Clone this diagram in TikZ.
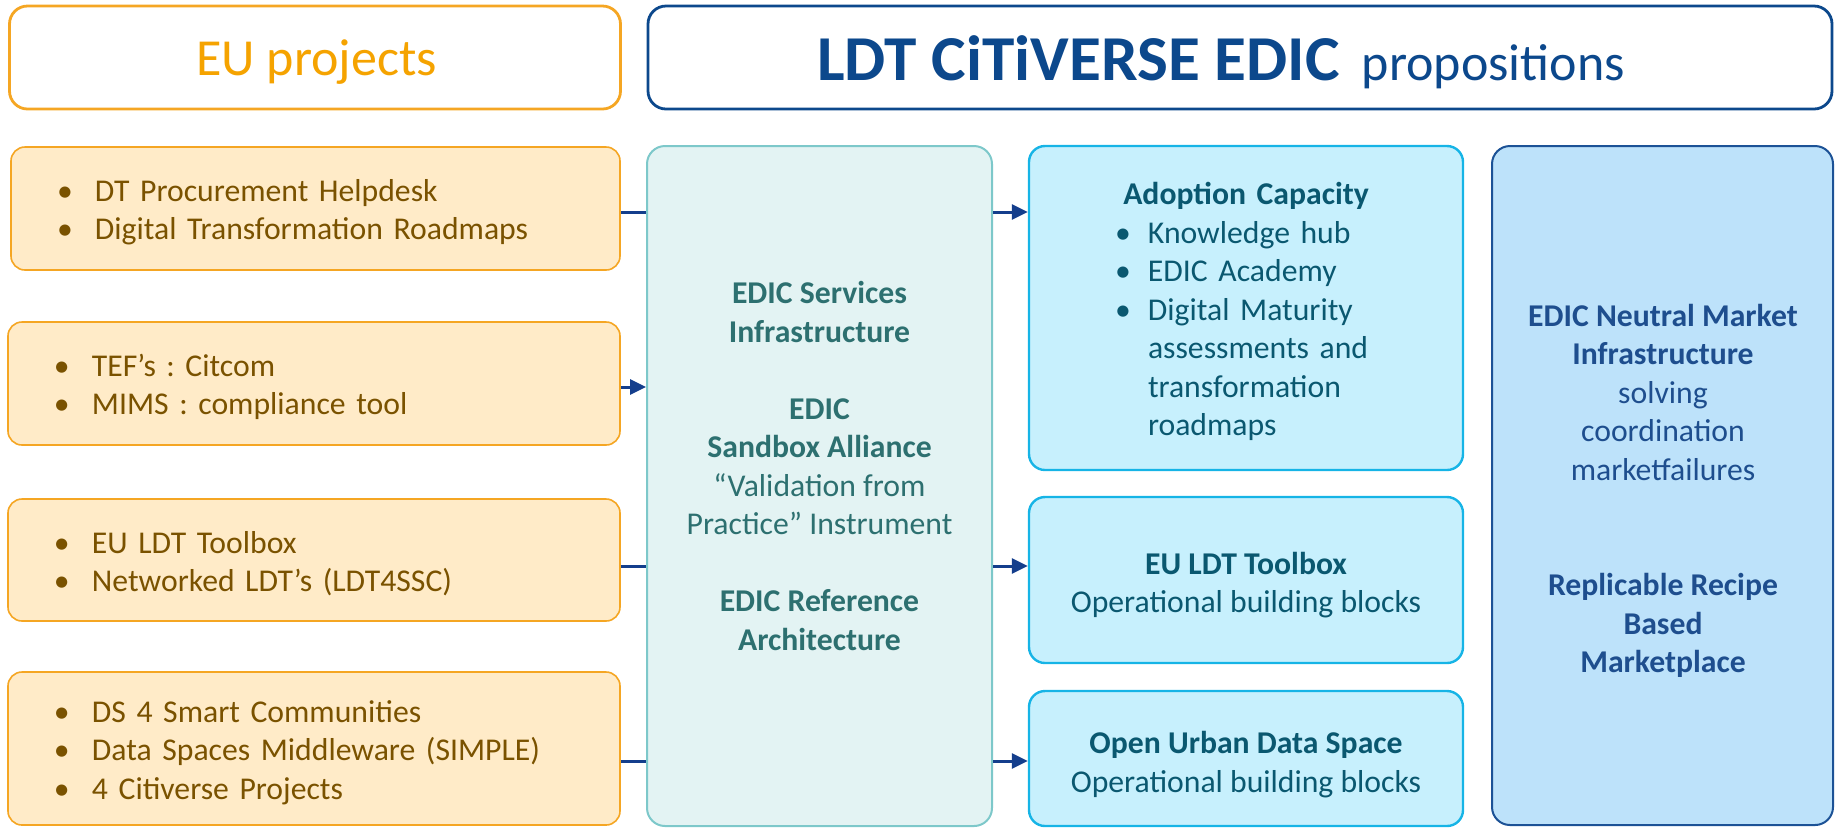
\documentclass[tikz,border=0pt]{standalone}
\usepackage{fontspec}
\setmainfont{Carlito}
\usetikzlibrary{arrows.meta}
\definecolor{lborder}{RGB}{245,166,35}
\definecolor{lfill}{RGB}{255,235,200}
\definecolor{ltext}{RGB}{122,82,0}
\definecolor{orangetitle}{RGB}{245,163,0}
\definecolor{ldtblue}{RGB}{12,72,140}
\definecolor{midfill}{RGB}{227,243,243}
\definecolor{midborder}{RGB}{125,200,202}
\definecolor{midtext}{RGB}{45,112,112}
\definecolor{rfill}{RGB}{199,240,253}
\definecolor{rborder}{RGB}{22,180,230}
\definecolor{rtext}{RGB}{10,88,112}
\definecolor{frfill}{RGB}{189,226,250}
\definecolor{frborder}{RGB}{28,82,150}
\definecolor{frtext}{RGB}{30,78,142}
\definecolor{connblue}{RGB}{20,62,140}
\newcommand{\bul}{\makebox[19pt][l]{•}}
\newcommand{\rbul}{\makebox[16.5pt][l]{•}}
\frenchspacing
\begin{document}
\frenchspacing
\begin{tikzpicture}[x=0.5pt,y=-0.5pt,
  basefont/.style={font=\fontsize{15.85pt}{19.25pt}\selectfont\frenchspacing},
  titlebox/.style={line width=1.4pt, rounded corners=9pt, fill=white, minimum width=#1, minimum height=51.5pt, inner sep=0pt},
  lbox/.style={draw=lborder, fill=lfill, line width=0.8pt, rounded corners=7pt, minimum width=306pt, inner sep=0pt},
  ltxt/.style={basefont, text=ltext, align=left, inner sep=0pt, text width=260pt},
  midbox/.style={draw=midborder, fill=midfill, line width=1pt, rounded corners=9pt, minimum width=172.5pt, minimum height=340pt, inner sep=0pt},
  rbox/.style={draw=rborder, fill=rfill, line width=1.2pt, rounded corners=8pt, minimum width=217pt, inner sep=0pt},
  rtxt/.style={basefont, text=rtext, align=center, inner sep=0pt},
  frbox/.style={draw=frborder, fill=frfill, line width=1pt, rounded corners=9pt, minimum width=170.5pt, minimum height=339.5pt, inner sep=0pt},
  conn/.style={draw=connblue, line width=1.5pt},
  connarrow/.style={conn, -{Triangle[length=8pt,width=7.5pt]}}
]
\useasboundingbox (0,0) rectangle (1835,827);

% title boxes
\node[titlebox=305.5pt, draw=lborder] (eu) at (315,57.5) {};
\node[titlebox=592pt, draw=ldtblue] (ldt) at (1240,57.5) {};
\node[anchor=base, text=orangetitle, font=\fontsize{26pt}{31pt}\selectfont] (eutext) at (316.5,75) {EU projects};
\node[anchor=base, text=ldtblue, font=\fontsize{26pt}{31pt}\selectfont] (ldttext) at (1221,80)
  {{\fontsize{32pt}{38pt}\selectfont\bfseries\scalebox{1.02}[1]{LDT CiTiVERSE EDIC}}\hspace{11pt}propositions};

% left boxes
\node[lbox, minimum width=304.5pt, minimum height=61.5pt] (l1) at (315.5,208.5) {};
\node[ltxt, text width=258.5pt] (l1t) at (315.5,212)
  {\bul DT Procurement Helpdesk\\ \bul Digital Transformation Roadmaps};
\node[lbox, minimum height=61.5pt] (l2) at (314,383.5) {};
\node[ltxt] (l2t) at (314,387)
  {\bul TEF’s : Citcom\\ \bul MIMS : compliance tool};
\node[lbox, minimum height=61pt] (l3) at (314,560) {};
\node[ltxt] (l3t) at (314,563.5)
  {\bul EU LDT Toolbox\\ \bul Networked LDT’s (LDT4SSC)};
\node[lbox, minimum height=76.5pt] (l4) at (314,748.5) {};
\node[ltxt] (l4t) at (314,752.5)
  {\bul DS 4 Smart Communities\\ \bul Data Spaces Middleware (SIMPLE)\\ \bul 4 Citiverse Projects};

% middle box
\node[midbox] (mid) at (819.5,486) {};
\node[basefont, text=midtext, align=center] (midtext) at (819.5,466)
  {\textbf{EDIC Services}\\ \textbf{Infrastructure}\\[19.25pt]
   \textbf{EDIC}\\ \textbf{Sandbox Alliance}\\ “Validation from\\ Practice” Instrument\\[19.25pt]
   \textbf{EDIC Reference}\\ \textbf{Architecture}};

% right boxes
\node[rbox, minimum height=162pt] (ra) at (1246,308) {};
\node[rtxt, align=left, text width=131pt] (rat) at (1246,311.5)
  {\makebox[131pt][c]{\bfseries Adoption Capacity}\\
   \rbul Knowledge hub\\ \rbul EDIC Academy\\ \rbul Digital Maturity\\
   \hspace*{16.5pt}assessments and\\ \hspace*{16.5pt}transformation\\ \hspace*{16.5pt}roadmaps};
\node[rbox, minimum height=83pt] (rb) at (1246,580) {};
\node[rtxt] (rbt) at (1246,585)
  {\textbf{EU LDT Toolbox}\\ Operational building blocks};
\node[rbox, minimum height=67.5pt] (rc) at (1246,758.5) {};
\node[rtxt] (rct) at (1246,764.5)
  {\textbf{Open Urban Data Space}\\ Operational building blocks};

% far right box
\node[frbox] (fr) at (1662.5,485.5) {};
\node[basefont, text=frtext, align=center] (frtext) at (1663,491)
  {\textbf{EDIC Neutral Market}\\ \textbf{Infrastructure}\\ solving\\ coordination\\ marketfailures\\[38.5pt]
   \textbf{Replicable Recipe}\\ \textbf{Based}\\ \textbf{Marketplace}};

% connector levels
\coordinate (y1) at (0,212);
\coordinate (y2) at (0,387);
\coordinate (y3) at (0,566);
\coordinate (y4) at (0,761);

\draw[conn] (l1.east |- y1) -- (mid.west |- y1);
\draw[connarrow] (l2.east |- y2) -- (mid.west |- y2);
\draw[conn] (l3.east |- y3) -- (mid.west |- y3);
\draw[conn] (l4.east |- y4) -- (mid.west |- y4);

\draw[connarrow] (mid.east |- y1) -- (ra.west |- y1);
\draw[connarrow] (mid.east |- y3) -- (rb.west |- y3);
\draw[connarrow] (mid.east |- y4) -- (rc.west |- y4);
\end{tikzpicture}
\end{document}
